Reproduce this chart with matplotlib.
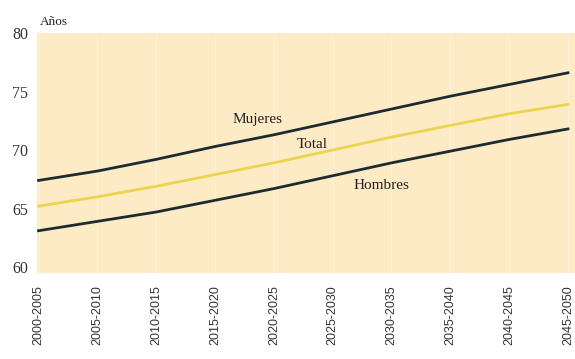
import matplotlib
matplotlib.use("Agg")
import matplotlib.pyplot as plt

# esperanza de vida al nacer por quinquenio
periodos = ["2000-2005", "2005-2010", "2010-2015", "2015-2020", "2020-2025",
            "2025-2030", "2030-2035", "2035-2040", "2040-2045", "2045-2050"]
mujeres = [67.4, 68.2, 69.2, 70.3, 71.3, 72.4, 73.5, 74.6, 75.6, 76.6]
total   = [65.2, 66.0, 66.9, 67.9, 68.9, 70.0, 71.1, 72.1, 73.1, 73.9]
hombres = [63.1, 63.9, 64.7, 65.7, 66.7, 67.8, 68.9, 69.9, 70.9, 71.8]
yticks = [60, 65, 70, 75, 80]

BG = "#fdebc6"
DARK = "#1c2b30"
YELLOW = "#ead54e"

fig = plt.figure(figsize=(5.75, 3.59), dpi=100)
ax = fig.add_axes([0.064, 0.24, 0.936, 0.668])
ax.set_facecolor(BG)
x = list(range(len(periodos)))

# lineas verticales tenues en cada quinquenio
for xi in x:
    ax.axvline(xi, color="white", lw=0.8, alpha=0.35, zorder=1)

ax.plot(x, mujeres, color=DARK, lw=2.0, zorder=3)
ax.plot(x, total, color=YELLOW, lw=2.0, zorder=3)
ax.plot(x, hombres, color=DARK, lw=2.0, zorder=3)

serif = {"family": "Liberation Serif", "color": "#222222"}
ax.text(3.72, 72.6, "Mujeres", fontsize=11, ha="center", va="center", **serif)
ax.text(4.65, 70.5, "Total", fontsize=11, ha="center", va="center", **serif)
ax.text(5.83, 67.0, "Hombres", fontsize=11, ha="center", va="center", **serif)

ax.set_xlim(-0.03, 9.12)
ax.set_ylim(59.5, 80)
ax.set_yticks(yticks)
ax.set_yticklabels([str(v) for v in yticks], fontfamily="Liberation Serif",
                   fontsize=11.5, color="#333333")
ax.set_xticks(x)
ax.set_xticklabels(periodos, rotation=90, fontfamily="Liberation Sans",
                   fontsize=9, color="#333333")
ax.tick_params(axis="y", length=0, pad=6)
ax.tick_params(axis="x", length=0, pad=9)
for s in ax.spines.values():
    s.set_visible(False)

fig.text(0.07, 0.938, "Años", fontsize=9.5, ha="left", va="center", **serif)

fig.savefig("out.png", dpi=100)
